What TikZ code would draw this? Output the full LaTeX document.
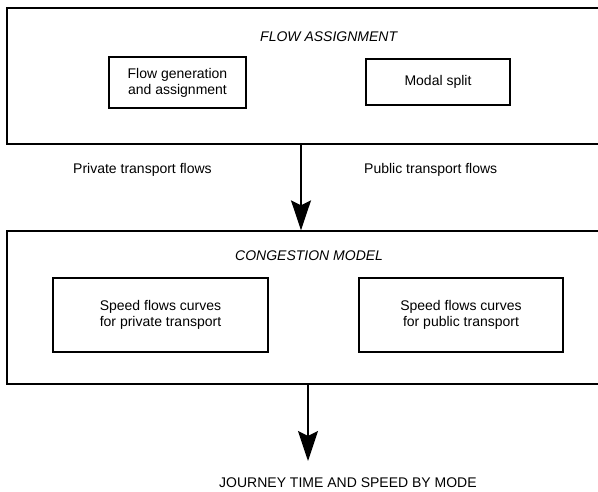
\documentclass[tikz,border=0pt]{standalone}
\usepackage{fontspec}
\setmainfont{Liberation Sans}
\usetikzlibrary{arrows.meta}
\begin{document}
\begin{tikzpicture}[x=1pt,y=-1pt,
  outerbox/.style={draw,line width=1.3pt,rectangle,inner sep=0pt},
  innerbox/.style={draw,line width=1.2pt,rectangle,inner sep=0pt,align=center,
    font=\fontsize{14}{16}\selectfont},
  title/.style={inner sep=0pt,anchor=base west,font=\fontsize{14}{16}\selectfont\itshape},
  lbl/.style={inner sep=0pt,anchor=base west,font=\fontsize{14}{16}\selectfont},
  flowarrow/.style={line width=1.5pt,-{Stealth[length=30pt,width=20pt,inset=5pt]}}]
\useasboundingbox (0,0) rectangle (598,492);
% outer boxes
\node[outerbox,minimum width=596pt,minimum height=136pt] (fa) at (305,76) {};
\node[outerbox,minimum width=596pt,minimum height=153pt] (cm) at (305,307.5) {};
% titles
\node[title] (fat) at (260,42) {FLOW ASSIGNMENT};
\node[title] (cmt) at (235,261) {CONGESTION MODEL};
% inner boxes
\node[innerbox,minimum width=137pt,minimum height=51pt] (fg) at (177.5,82.5) {Flow generation\\and assignment};
\node[innerbox,minimum width=144pt,minimum height=46pt] (ms) at (438,82) {Modal split};
\node[innerbox,minimum width=215pt,minimum height=74pt] (sp) at (160.5,315) {Speed flows curves\\for private transport};
\node[innerbox,minimum width=204pt,minimum height=74pt] (su) at (461,315) {Speed flows curves\\for public transport};
% labels
\node[lbl] (prv) at (73,174) {Private transport flows};
\node[lbl] (pub) at (364,174) {Public transport flows};
\node[lbl] (out) at (219,487) {JOURNEY TIME AND SPEED BY MODE};
% arrows
\coordinate (x1) at (301,0);
\coordinate (x2) at (308,0);
\coordinate (e2) at (308,461);
\draw[flowarrow] (fa.south -| x1) -- (cm.north -| x1);
\draw[flowarrow] (cm.south -| x2) -- (e2);
\end{tikzpicture}
\end{document}
